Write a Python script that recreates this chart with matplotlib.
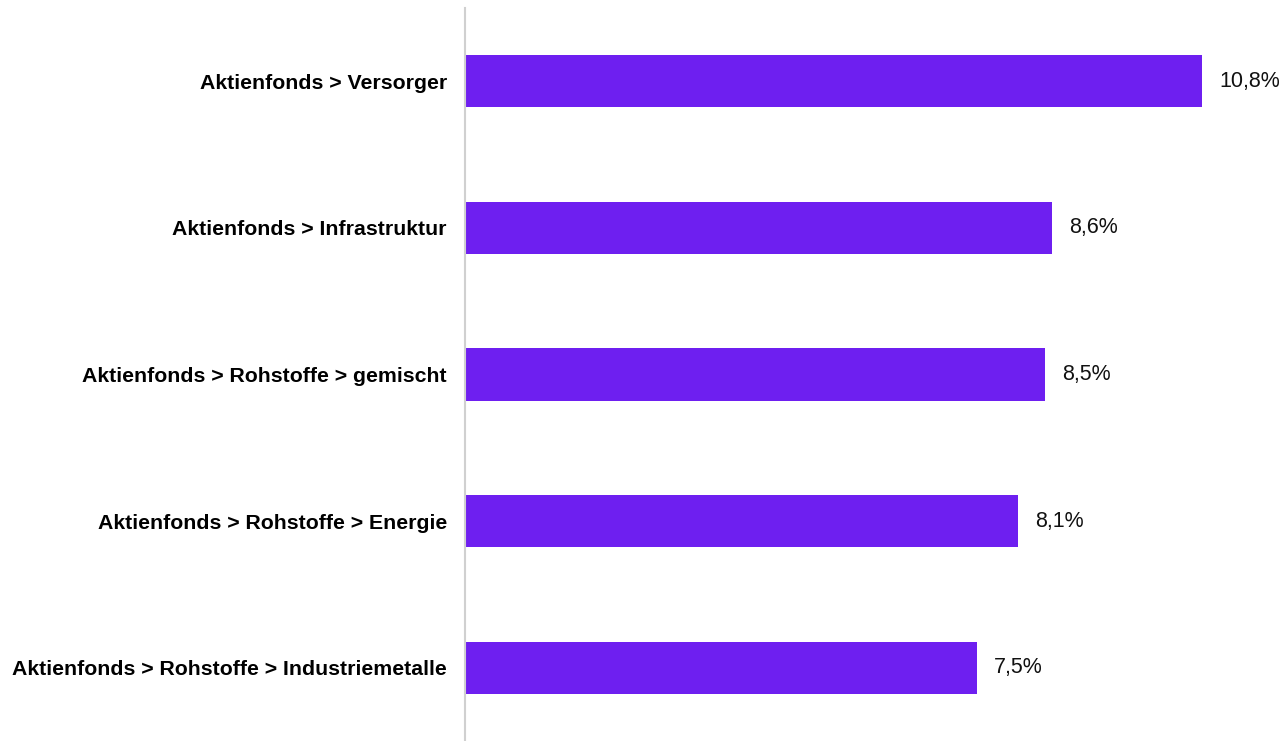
import matplotlib.pyplot as plt

categories = [
    "Aktienfonds > Versorger",
    "Aktienfonds > Infrastruktur",
    "Aktienfonds > Rohstoffe > gemischt",
    "Aktienfonds > Rohstoffe > Energie",
    "Aktienfonds > Rohstoffe > Industriemetalle",
]
values = [10.8, 8.6, 8.5, 8.1, 7.5]
value_labels = ["10,8%", "8,6%", "8,5%", "8,1%", "7,5%"]

plt.rcParams['font.family'] = ['Liberation Sans', 'DejaVu Sans']

fig = plt.figure(figsize=(12.84, 7.41), dpi=100)
ax = fig.add_axes([465 / 1284, 0, 1 - 465 / 1284, 1 - 8 / 741])

pos = range(len(categories))
ax.barh(pos, values, height=0.355, color='#6E1FF0')
for p, v, lab in zip(pos, values, value_labels):
    ax.annotate(lab, (v, p), xytext=(12.5, 0), textcoords='offset points',
                va='center', ha='left', fontsize=15.5, color='#111111')

ax.set_xlim(0, 12)
ax.set_ylim(4.5, -0.5)
ax.set_yticks(list(pos))
ax.set_yticklabels(categories, fontsize=15.3, fontweight='bold')
ax.tick_params(axis='y', length=0, pad=13)
ax.set_xticks([])
for s in ['top', 'right', 'bottom']:
    ax.spines[s].set_visible(False)
ax.spines['left'].set_color('#d0d0d0')
ax.spines['left'].set_linewidth(1.5)

fig.savefig('out.png', dpi=100)
